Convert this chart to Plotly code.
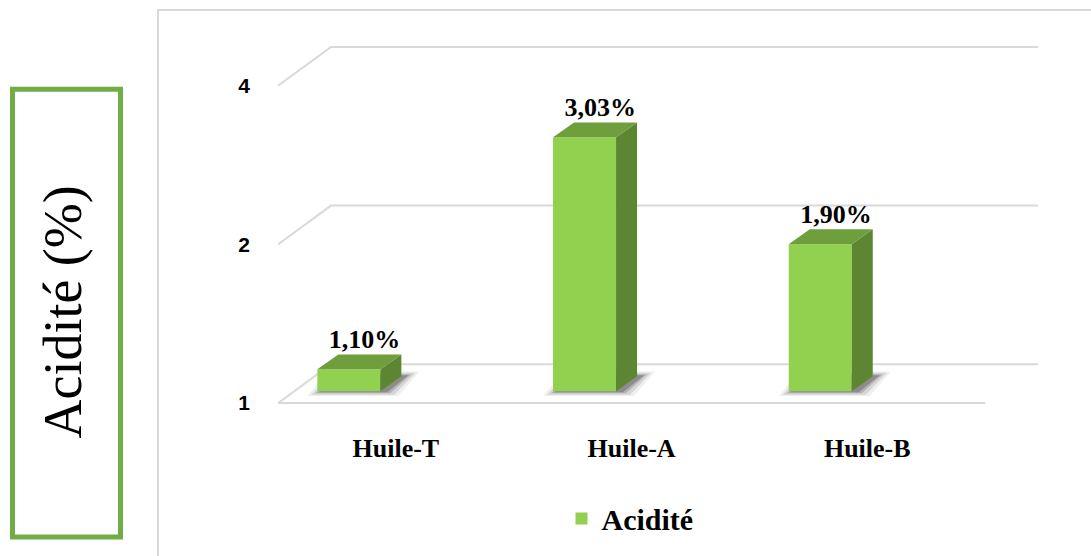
import plotly.graph_objects as go

# ---------------- data ----------------
CATEGORIES = ["Huile-T", "Huile-A", "Huile-B"]
ACIDITE = [1.10, 3.03, 1.90]
Y_TICKS = [1, 2, 4]
SERIES_NAME = "Acidité"
Y_TITLE = "Acidité (%)"

# ---------------- styling / geometry (pixels) ----------------
W, H = 1091, 556
PL, PR, PT, PB = 278, 1040, 30, 428        # plot area edges in px
SLOT_PX = 235.7                            # px per category slot
DEC_PX = 529.85                            # px per decade on the log axis
Y_ONE_PX = 405                             # pixel row of value 1 (front floor edge)

X_MIN = -0.5
X_MAX = X_MIN + (PR - PL) / SLOT_PX
Y_MIN = -(PB - Y_ONE_PX) / DEC_PX
Y_MAX = (Y_ONE_PX - PT) / DEC_PX


def dx(px):
    return px / SLOT_PX


def fy(px):
    return 10 ** (px / DEC_PX)


def px_x(px):
    return (px - PL) / (PR - PL)


def px_y(py):
    return (PB - py) / (PB - PT)


FLOOR_DX, FLOOR_DY = dx(53), fy(39)
BAR_OFF, BAR_W = dx(-47), dx(63)
BAR_BASE = fy(12)
BAR_DX, BAR_DY = dx(21), fy(15)

C_FRONT = "#92D050"
C_TOP = "#6E9F3C"
C_SIDE = "#5D8633"
C_GRID = "#D9D9D9"
SERIF = "Liberation Serif"
SANS = "Liberation Sans"

n = len(CATEGORIES)
xc = [i + BAR_OFF for i in range(n)]
x0s = [x - BAR_W / 2 for x in xc]
x1s = [x + BAR_W / 2 for x in xc]
tops = [v * BAR_BASE for v in ACIDITE]


def path_of(pts, close=False):
    p = "M" + " L".join(f"{a},{b}" for a, b in pts)
    return p + (" Z" if close else "")


shapes = []

# ---- 3D walls / gridlines (data-space shapes, drawn below the bars) ----
for t in Y_TICKS:
    pts = [(X_MIN, t), (X_MIN + FLOOR_DX, t * FLOOR_DY), (X_MIN + n + FLOOR_DX, t * FLOOR_DY)]
    shapes.append(dict(type="path", xref="x", yref="y", path=path_of(pts),
                       line=dict(color=C_GRID, width=2), layer="below"))
shapes.append(dict(type="path", xref="x", yref="y",
                   path=path_of([(X_MIN, Y_TICKS[0]), (X_MIN + n, Y_TICKS[0])]),
                   line=dict(color=C_GRID, width=2), layer="below"))

# ---- soft floor shadows ----
for x0, x1 in zip(x0s, x1s):
    for e, op in [(14, 0.07), (10, 0.12), (6, 0.18), (3, 0.25)]:
        ee = dx(e)
        sh = dx(4)
        yb = BAR_BASE / fy(e * 0.35)
        yt = BAR_BASE * BAR_DY * fy(e * 0.35)
        pts = [(x0 - ee + sh, yb), (x1 + ee + sh, yb),
               (x1 + BAR_DX + ee + sh, yt), (x0 + BAR_DX - ee + sh, yt)]
        shapes.append(dict(type="path", xref="x", yref="y", path=path_of(pts, True),
                           fillcolor=f"rgba(25,25,25,{op})",
                           line=dict(width=0), layer="below"))

fig = go.Figure()

# ---- front faces (bars) ----
fig.add_trace(go.Bar(
    x=xc, y=[t - BAR_BASE for t in tops], base=BAR_BASE, width=BAR_W,
    marker=dict(color=C_FRONT, line=dict(width=0)),
    name=SERIES_NAME, showlegend=True, hoverinfo="skip"))

# ---- side faces ----
sx, sy = [], []
for x1, t in zip(x1s, tops):
    sx += [x1, x1 + BAR_DX, x1 + BAR_DX, x1, x1, None]
    sy += [BAR_BASE, BAR_BASE * BAR_DY, t * BAR_DY, t, BAR_BASE, None]
fig.add_trace(go.Scatter(x=sx, y=sy, mode="lines", fill="toself",
                         fillcolor=C_SIDE, line=dict(width=0, color=C_SIDE),
                         showlegend=False, hoverinfo="skip"))

# ---- top faces ----
tx, ty = [], []
for x0, x1, t in zip(x0s, x1s, tops):
    tx += [x0, x0 + BAR_DX, x1 + BAR_DX, x1, x0, None]
    ty += [t, t * BAR_DY, t * BAR_DY, t, t, None]
fig.add_trace(go.Scatter(x=tx, y=ty, mode="lines", fill="toself",
                         fillcolor=C_TOP, line=dict(width=0, color=C_TOP),
                         showlegend=False, hoverinfo="skip"))

# ---- data labels ----
labels = [f"{v:.2f}".replace(".", ",") + "%" for v in ACIDITE]
fig.add_trace(go.Scatter(
    x=[x + 0.75 * BAR_DX for x in xc], y=[t * BAR_DY for t in tops],
    mode="text", text=labels, textposition="top center",
    textfont=dict(family=SERIF, size=26, color="black", weight="bold"),
    showlegend=False, hoverinfo="skip", cliponaxis=False))

# ---- frame + y title box ----
shapes.append(dict(type="rect", xref="paper", yref="paper",
                   x0=px_x(158), x1=px_x(1100), y0=px_y(565), y1=px_y(10),
                   line=dict(color="#D9D9D9", width=2), layer="below"))
shapes.append(dict(type="rect", xref="paper", yref="paper",
                   x0=px_x(12.5), x1=px_x(120.5), y0=px_y(539.5), y1=px_y(89.5),
                   line=dict(color="#70AD47", width=5)))

fig.update_layout(
    width=W, height=H,
    margin=dict(l=PL, r=W - PR, t=PT, b=H - PB, pad=0),
    paper_bgcolor="white", plot_bgcolor="white",
    shapes=shapes,
    hovermode=False,
    showlegend=True,
    legend=dict(orientation="h", x=px_x(630), y=px_y(521),
                xanchor="center", yanchor="middle",
                font=dict(family=SERIF, size=30, color="black", weight="bold"),
                bgcolor="rgba(0,0,0,0)"),
    annotations=[dict(text=Y_TITLE, xref="paper", yref="paper",
                      x=px_x(63), y=px_y(314), textangle=-90,
                      showarrow=False, xanchor="center", yanchor="middle",
                      font=dict(family=SERIF, size=54, color="black"))],
    xaxis=dict(range=[X_MIN, X_MAX], tickvals=list(range(n)), ticktext=CATEGORIES,
               showgrid=False, zeroline=False, showline=False, ticks="",
               ticklabelstandoff=4,
               tickfont=dict(family=SERIF, size=26, color="black", weight="bold")),
    yaxis=dict(type="log", range=[Y_MIN, Y_MAX], tickvals=Y_TICKS,
               ticktext=[str(t) for t in Y_TICKS],
               showgrid=False, zeroline=False, showline=False, ticks="",
               ticklabelstandoff=27,
               tickfont=dict(family=SANS, size=21, color="black", weight="bold")),
)

fig.write_html("out.html")
